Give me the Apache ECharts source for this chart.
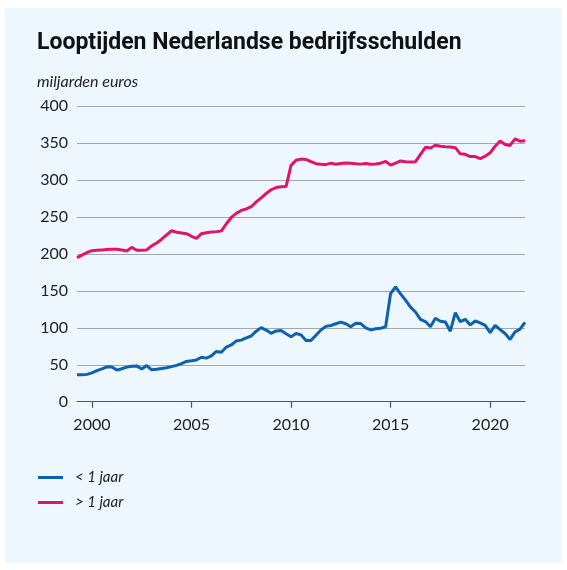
<!DOCTYPE html>
<html><head><meta charset="utf-8">
<script src="https://cdn.jsdelivr.net/npm/echarts@6/dist/echarts.min.js"></script>
<style>html,body{margin:0;padding:0;background:#fff}#c{width:567px;height:570px}</style>
</head><body><div id="c"></div><script>
// Quarterly observations, first quarter at 1999.25, one point per quarter
const firstQuarter = 1999.25;
const shortTerm = [
  36.5,36.5,37,39,42,44.5,47.3,47,42.8,44.6,46.8,48,48.5,44.2,49,43.2,44,45,46,47.5,
  49.2,51.5,54.5,55.5,56.6,60.2,59,62,68,67,74,76.8,82.3,83.4,86.5,89,95.5,100.3,97,92.6,
  95.8,96.5,92,88,92.3,90.5,83,82.8,90,97,102,103.2,105.5,107.8,105.5,101.5,106.3,105.8,100,97.2,
  98.8,99.5,101.5,146.5,155.4,146,137.5,128,121.5,111.5,108.5,101.5,113,109,108,95.5,120.5,108.3,111.5,104,
  109.3,106.7,103.3,93.6,103.5,97.6,92.3,84.3,94.6,98.2,107.3
];
const longTerm = [
  195,198.5,202,204.5,205,205.5,206,206.5,206.3,205.5,204,209,205,205,205.5,211,215,220,226,231.5,
  229.5,228.5,227.5,224,221,227.5,228.8,229.8,230.3,231,241,249.5,255,259,261,264,270.5,276,282,287,
  290,291,291.5,320,327,328.5,328,325,322.3,321.5,321,323,321.5,322.5,323.2,322.8,322.3,321.7,322.5,321.5,
  322,323,325.5,320.3,323,326,324.8,324.5,325,335,344.5,343.5,347.2,346,345.2,345,344,335.6,335,332,
  332,329,332.5,337,346,353,348.2,347,355.8,352.7,353.2
];
const yTicks = [0,50,100,150,200,250,300,350,400];
const xTicks = [2000,2005,2010,2015,2020];
const seriesNames = ['< 1 jaar','> 1 jaar'];

const quarterPos = shortTerm.map((_, i) => firstQuarter + i / 4);
const pair = vals => vals.map((v, i) => [quarterPos[i], v]);

const chart = echarts.init(document.getElementById('c'), null, {renderer:'canvas'});
chart.setOption({
  backgroundColor:'#ffffff',
  animation:false,
  graphic:[{type:'rect', z:-10, silent:true, shape:{x:5,y:8,width:557,height:555}, style:{fill:'#eef7fe'}}],
  title:[
    {text:'Looptijden Nederlandse bedrijfsschulden', left:32, top:27,
     textStyle:{fontFamily:'Roboto', fontWeight:'bold', fontSize:23, color:'#111'}},
    {text:'miljarden euros', left:32, top:69,
     textStyle:{fontFamily:'Lato', fontStyle:'italic', fontWeight:'normal', fontSize:16, color:'#222'}}
  ],
  legend:{
    data:seriesNames, orient:'vertical', left:33, top:465, icon:'rect',
    itemWidth:25, itemHeight:3, itemGap:10,
    textStyle:{fontFamily:'Lato', fontStyle:'italic', fontSize:15, color:'#222', padding:[0,0,0,7], lineHeight:14}
  },
  grid:{left:77, right:42, top:106.3, bottom:168.3, containLabel:false},
  xAxis:{
    type:'value', min:firstQuarter, max:quarterPos[quarterPos.length-1],
    axisLine:{show:true, lineStyle:{color:'#555', width:1.2}},
    axisTick:{show:true, customValues:xTicks, length:6, lineStyle:{color:'#555', width:1.2}},
    axisLabel:{customValues:xTicks, margin:15, fontFamily:'Lato', fontSize:16, color:'#222', formatter:v=>String(v)},
    splitLine:{show:false}
  },
  yAxis:{
    type:'value', min:yTicks[0], max:yTicks[yTicks.length-1], interval:50,
    axisLine:{show:false}, axisTick:{show:false},
    axisLabel:{margin:9, fontFamily:'Lato', fontSize:16, color:'#222'},
    splitLine:{show:true, lineStyle:{color:'#a3a6aa', width:1.2}}
  },
  series:[
    {name:seriesNames[0], type:'line', data:pair(shortTerm), showSymbol:false, symbol:'none',
     lineStyle:{color:'#0a62b0', width:3}, itemStyle:{color:'#0a62b0'}},
    {name:seriesNames[1], type:'line', data:pair(longTerm), showSymbol:false, symbol:'none',
     lineStyle:{color:'#e5126a', width:3}, itemStyle:{color:'#e5126a'}}
  ]
});
</script></body></html>
